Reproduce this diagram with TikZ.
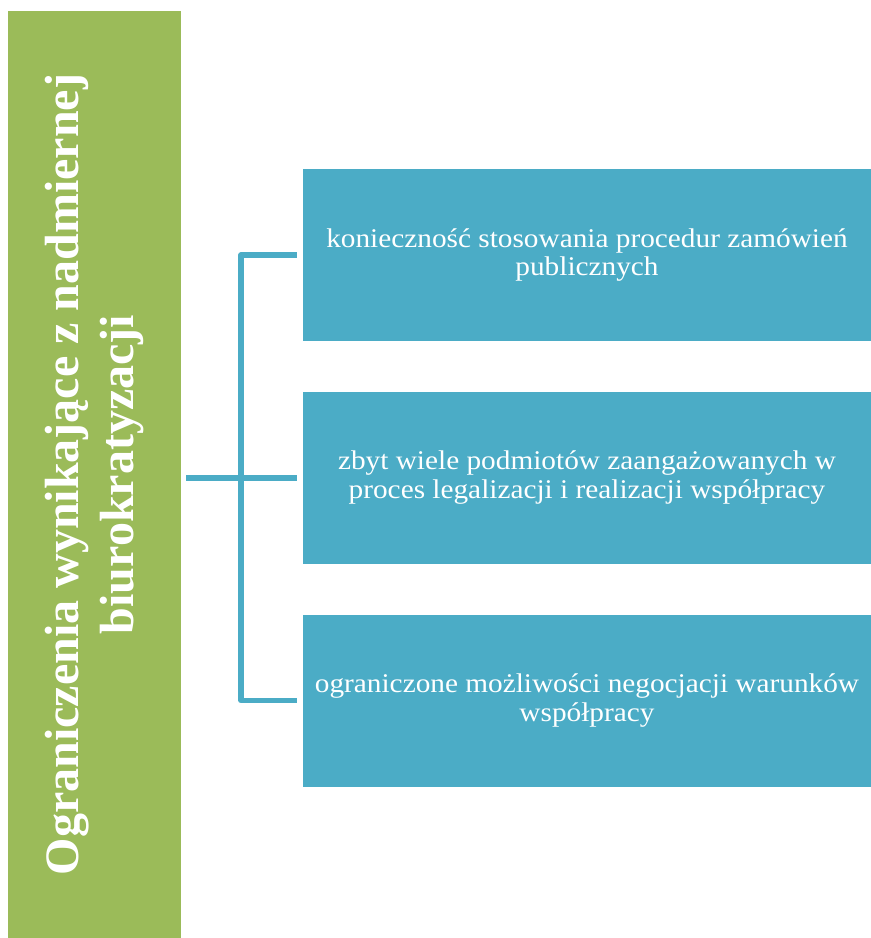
\documentclass[tikz,border=0pt]{standalone}
\usepackage{fontspec}
\setmainfont{Liberation Serif}
\newfontfamily\itemfont[FakeStretch=1.085]{Liberation Serif}
\usepackage{tikz}
\usetikzlibrary{calc, positioning}

\definecolor{barrgreen}{HTML}{9BBB59}
\definecolor{barrblue}{HTML}{4BACC6}

\tikzset{
  catbox/.style={fill=barrgreen, text=white, rotate=90, minimum width=927pt,
    minimum height=173pt, inner sep=0pt, align=center,
    font=\fontsize{48}{55}\selectfont\bfseries},
  itembox/.style={fill=barrblue, text=white, minimum width=568pt,
    minimum height=172pt, inner sep=0pt, align=center,
    font=\itemfont\fontsize{27}{28.5}\selectfont},
  link/.style={draw=barrblue, line width=5.5pt, line join=round}
}

\begin{document}
\begin{tikzpicture}[x=1pt, y=-1pt]
  \useasboundingbox (0,0) rectangle (871,938);
  % Category
  \node[catbox] (cat) at (94.5,474.5) {Ograniczenia wynikające z nadmiernej\\biurokratyzacji};
  % Items
  \node[itembox] (item1) at (587,255) {konieczność stosowania procedur zamówień\\publicznych};
  \node[itembox] (item2) at (587,477.5) {zbyt wiele podmiotów zaangażowanych w\\proces legalizacji i realizacji współpracy};
  \node[itembox] (item3) at (587,700.5) {ograniczone możliwości negocjacji warunków\\współpracy};
  % Connectors
  \coordinate (trunk) at (241,478);
  \draw[link] ([xshift=-6pt]item1.west) -| (trunk |- item3) -- ([xshift=-6pt]item3.west);
  \draw[link] ($(cat.south |- trunk)+(5,0)$) -- ([xshift=-6pt]item2.west |- trunk);
\end{tikzpicture}
\end{document}
